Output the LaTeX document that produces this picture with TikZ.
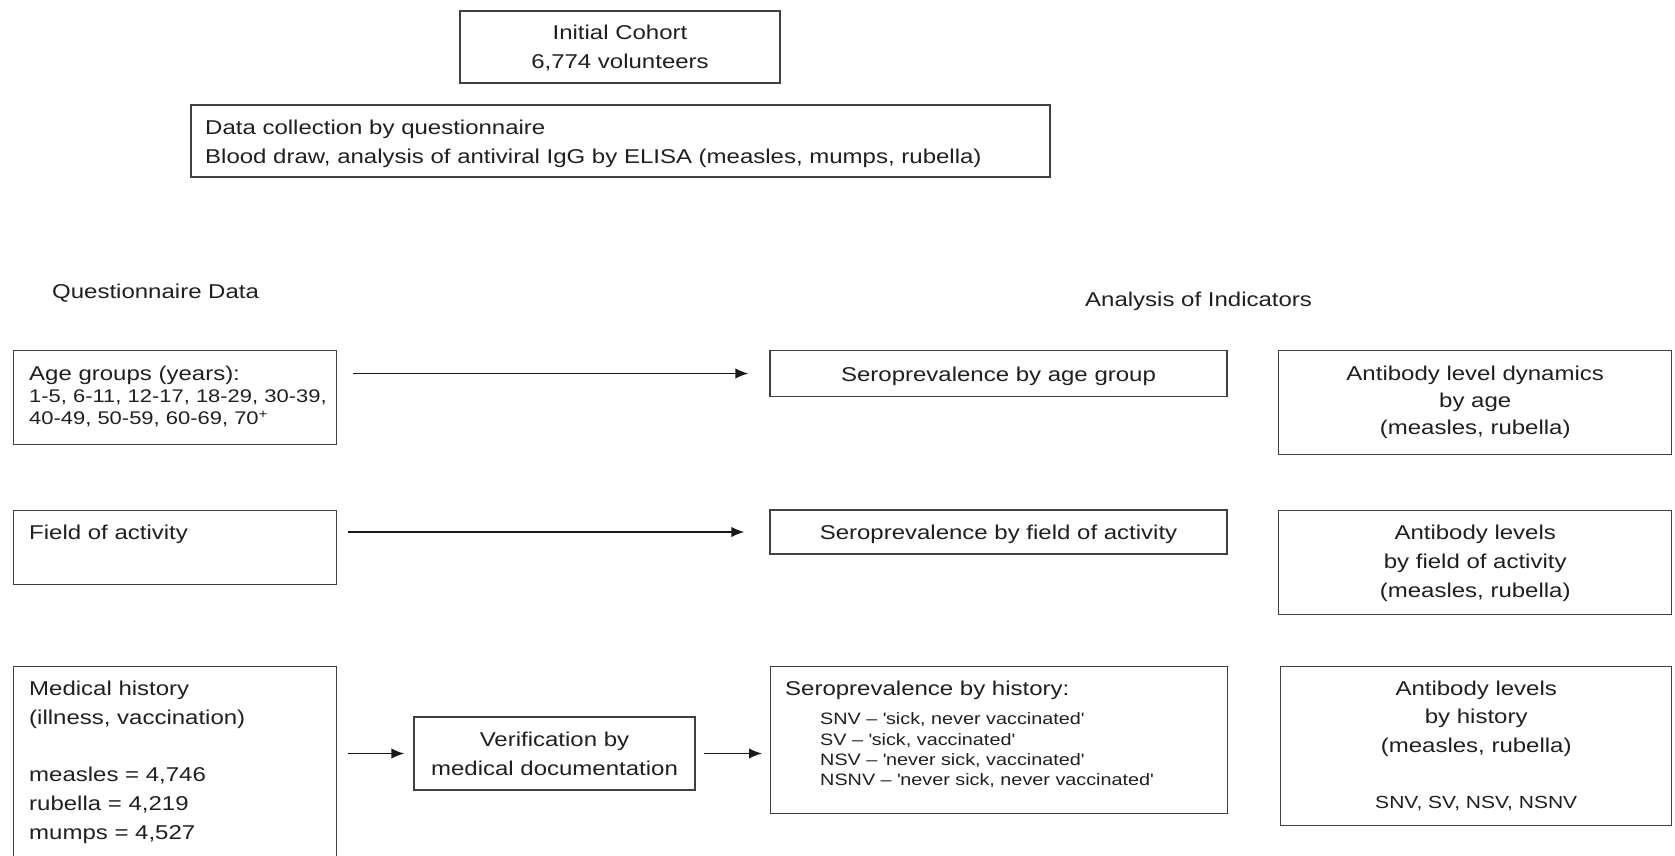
\documentclass[tikz,border=0pt]{standalone}
\usepackage{fontspec}
\setmainfont{Liberation Sans}[FakeStretch=1.2]
\usetikzlibrary{arrows.meta,calc}
\newcommand{\fsmain}{\fontsize{20}{29}\selectfont}
\newcommand{\fssmall}{\fontsize{16.5}{21}\selectfont}
\newcommand{\q}{\textquotesingle}
\begin{document}
\begin{tikzpicture}[x=1pt,y=-1pt,
  box/.style={draw=black!75, line width=1.4pt, inner sep=0pt},
  txt/.style={inner sep=0pt, text=black!88, font=\fsmain, yshift=-2.5pt},
  small/.style={inner sep=0pt, text=black!88, font=\fssmall, yshift=-2.5pt},
  arr/.style={draw=black!90, line width=1.6pt, -{Latex[length=13pt,width=10.5pt]}},
]
\useasboundingbox (0,0) rectangle (1675,855);

% top boxes
\node[box, minimum width=320, minimum height=72] (cohort) at (620,47) {};
\node[txt, align=center, yshift=1pt] (cohorttxt) at (cohort.center) {Initial Cohort\\6,774 volunteers};
\node[box, minimum width=859, minimum height=72] (data) at (620.5,141) {};
\node[txt, anchor=west, align=left] (datatxt) at (205,141.5) {Data collection by questionnaire\\Blood draw, analysis of antiviral IgG by ELISA (measles, mumps, rubella)};

% headings
\node[txt, anchor=west] (qhead) at (52,291) {Questionnaire Data};
\node[txt, anchor=west] (ahead) at (1085,299) {Analysis of Indicators};

% left column
\node[box, minimum width=323, minimum height=94, anchor=north west] (age) at (13,350) {};
\node[txt, anchor=west] (agetxt) at (29,373) {Age groups (years):};
\node[small, anchor=west, align=left, font=\fontsize{18.3}{21.5}\selectfont] (agesub) at (29,406) {1-5, 6-11, 12-17, 18-29, 30-39,\\40-49, 50-59, 60-69, 70\textsuperscript{+}};

\node[box, minimum width=323, minimum height=74, anchor=north west] (field) at (13,510) {};
\node[txt, anchor=west] (fieldtxt) at (29,532) {Field of activity};

\node[box, minimum width=323, minimum height=240, anchor=north west] (med) at (13,666) {};
\node[txt, anchor=west, align=left] (medtxt) at (29,702) {Medical history\\(illness, vaccination)};
\node[txt, anchor=west, align=left] (medcnt) at (29,803) {measles = 4,746\\rubella = 4,219\\mumps = 4,527};

% verification
\node[box, minimum width=281, minimum height=73] (verif) at (554.5,753.5) {};
\node[txt, align=center, yshift=2.5pt] (veriftxt) at (verif.center) {Verification by\\medical documentation};

% middle column
\node[box, minimum width=457, minimum height=46] (seroage) at (998.5,373.5) {};
\node[txt] (seroagetxt) at (seroage.center) {Seroprevalence by age group};
\node[box, minimum width=457, minimum height=44] (serofield) at (998.5,532) {};
\node[txt] (serofieldtxt) at (serofield.center) {Seroprevalence by field of activity};
\node[box, minimum width=457, minimum height=147, anchor=north west] (serohist) at (770,666) {};
\node[txt, anchor=west] (serohisttxt) at (785,688) {Seroprevalence by history:};
\node[small, anchor=west, align=left, font=\fontsize{16.5}{20.3}\selectfont] (serohistsub) at (820,748) {SNV -- \q sick, never vaccinated\q\\SV -- \q sick, vaccinated\q\\NSV -- \q never sick, vaccinated\q\\NSNV -- \q never sick, never vaccinated\q};

% right column
\node[box, minimum width=393, minimum height=104, anchor=north west] (abage) at (1278,350) {};
\node[txt, align=center, font=\fontsize{20}{27}\selectfont] (abagetxt) at (abage.center |- 0,400) {Antibody level dynamics\\by age\\(measles, rubella)};
\node[box, minimum width=393, minimum height=104, anchor=north west] (abfield) at (1278,510) {};
\node[txt, align=center] (abfieldtxt) at (abfield.center |- 0,561) {Antibody levels\\by field of activity\\(measles, rubella)};
\node[box, minimum width=391, minimum height=159, anchor=north west] (abhist) at (1280,666) {};
\node[txt, align=center, font=\fontsize{20}{28.5}\selectfont] (abhisttxt) at (abhist.center |- 0,716) {Antibody levels\\by history\\(measles, rubella)};
\node[small, font=\fontsize{17.5}{21}\selectfont] (abhistsub) at (abhist.center |- 0,801) {SNV, SV, NSV, NSNV};

% arrows
\draw[arr, shorten <=16pt, shorten >=21pt] (age.east |- seroage.west) -- (seroage.west);
\draw[arr, shorten <=11pt, shorten >=25pt] (field.east |- serofield.west) -- (serofield.west);
\draw[arr, shorten <=11pt, shorten >=9pt] (med.east |- verif.west) -- (verif.west);
\draw[arr, shorten <=8pt, shorten >=8pt] (verif.east) -- (verif.east -| serohist.west);
\end{tikzpicture}
\end{document}
